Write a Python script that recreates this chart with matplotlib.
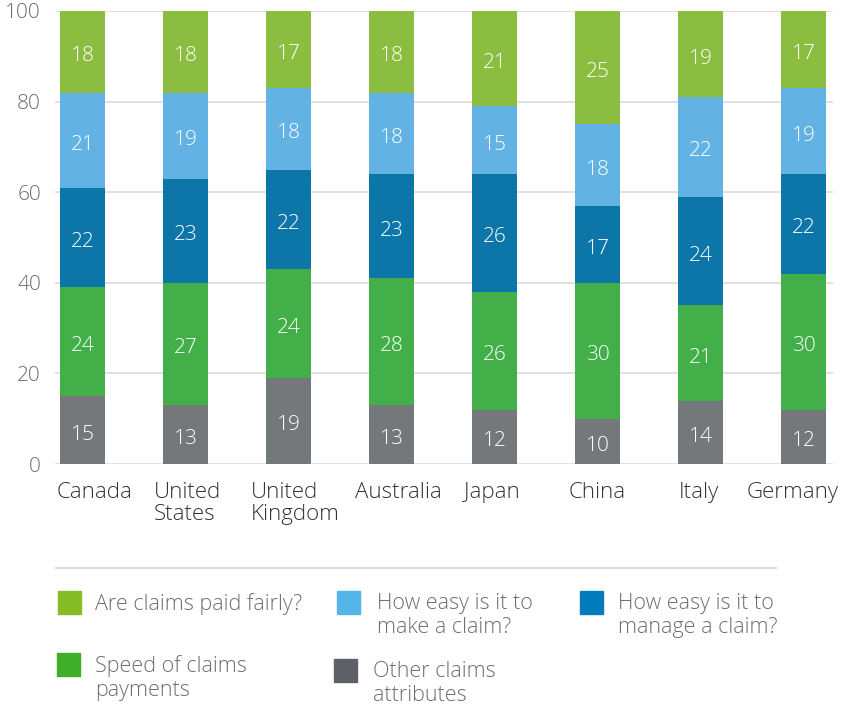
import numpy as np
import matplotlib
matplotlib.use("Agg")
import matplotlib.pyplot as plt
import matplotlib.transforms as mtransforms
from matplotlib.patches import Rectangle
from matplotlib.lines import Line2D

plt.rcParams['font.family'] = ['Open Sans', 'DejaVu Sans']

# data
countries = ['Canada', 'United\nStates', 'United\nKingdom', 'Australia',
             'Japan', 'China', 'Italy', 'Germany']
other = [15, 13, 19, 13, 12, 10, 14, 12]
speed = [24, 27, 24, 28, 26, 30, 21, 30]
manage = [22, 23, 22, 23, 26, 17, 24, 22]
make = [21, 19, 18, 18, 15, 18, 22, 19]
fair = [18, 18, 17, 18, 21, 25, 19, 17]

series = [other, speed, manage, make, fair]
bar_colors = ['#75787B', '#43AF49', '#0D76A8', '#62B3E4', '#8BBD41']

legend_labels = ['Are claims paid fairly?', 'How easy is it to\nmake a claim?',
                 'How easy is it to\nmanage a claim?', 'Speed of claims\npayments',
                 'Other claims\nattributes']
legend_colors = ['#86BC25', '#53B6E6', '#007CBA', '#3FAE2A', '#5D6066']

# small horizontal nudges of the category labels (pixels)
label_shift = [12, 2, 7, 7, -3, 0, -2, -11]

W, H = 855, 708
fig = plt.figure(figsize=(W / 100, H / 100), dpi=100)
ax = fig.add_axes([55 / W, 1 - 464 / H, (833 - 55) / W, (464 - 11) / H])

x = np.arange(len(countries))
bottom = np.zeros(len(countries))
for vals, col in zip(series, bar_colors):
    vals = np.array(vals)
    ax.bar(x, vals, 0.437, bottom=bottom, color=col, zorder=2)
    for xi, b, v in zip(x, bottom, vals):
        ax.text(xi, b + v / 2 - 1, str(v), ha='center', va='center',
                color='white', fontsize=15, fontweight='light', zorder=3)
    bottom += vals

ax.set_xlim(-0.267, 7.286)
ax.set_ylim(0, 100)
ax.set_yticks([0, 20, 40, 60, 80, 100])
ax.grid(axis='y', color='#dcdcdc', linewidth=1.2, zorder=0)
ax.set_axisbelow(True)
for s in ax.spines.values():
    s.set_visible(False)
ax.tick_params(axis='both', length=0)
ax.tick_params(axis='y', pad=10, labelsize=15, labelcolor='#6b6b6b')
ax.set_xticks(x)
ax.set_xticklabels(countries, fontsize=16, color='#333333', linespacing=1.05,
                   fontweight='light', va='top', multialignment='left')
ax.tick_params(axis='x', pad=13)
for lab in ax.get_yticklabels():
    lab.set_fontweight('light')
for lab, dx in zip(ax.get_xticklabels(), label_shift):
    lab.set_transform(lab.get_transform() +
                      mtransforms.ScaledTranslation(dx / 100, 0, fig.dpi_scale_trans))

# legend
fig.add_artist(Line2D([56 / W, 776 / W], [1 - 568 / H, 1 - 568 / H],
                      color='#dddddd', linewidth=1.5))
legend_pos = [(58, 591, 95), (337, 591, 377), (580, 591, 618),
              (57, 653, 95), (334, 659, 373)]
for (mx, my, tx), lab, col in zip(legend_pos, legend_labels, legend_colors):
    fig.add_artist(Rectangle((mx / W, 1 - (my + 23) / H), 23 / W, 23 / H,
                             color=col, transform=fig.transFigure))
    fig.text(tx / W, 1 - (my + 2) / H, lab, ha='left', va='top', fontsize=15.5,
             color='#6d6e71', fontweight='light', linespacing=1.2)

fig.savefig('out.png', dpi=100)
